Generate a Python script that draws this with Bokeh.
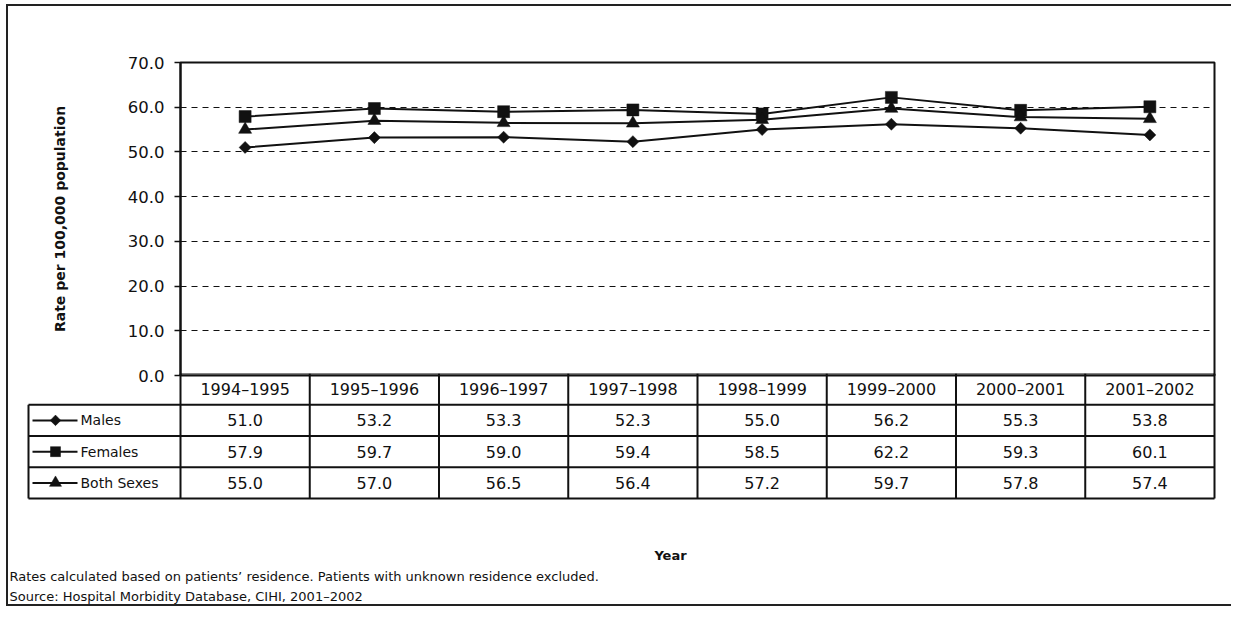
import numpy as np
from bokeh.plotting import figure
from bokeh.models import FixedTicker, NumeralTickFormatter
from bokeh.core.properties import value
from bokeh.embed import file_html
from bokeh.resources import INLINE

# ---------------- data ----------------
years = ["1994\u20131995", "1995\u20131996", "1996\u20131997", "1997\u20131998",
         "1998\u20131999", "1999\u20132000", "2000\u20132001", "2001\u20132002"]
males = [51.0, 53.2, 53.3, 52.3, 55.0, 56.2, 55.3, 53.8]
females = [57.9, 59.7, 59.0, 59.4, 58.5, 62.2, 59.3, 60.1]
both_sexes = [55.0, 57.0, 56.5, 56.4, 57.2, 59.7, 57.8, 57.4]
series_names = ["Males", "Females", "Both Sexes"]
y_ticks = [0, 10, 20, 30, 40, 50, 60, 70]
y_label = "Rate per 100,000 population"
x_label = "Year"
notes = ["Rates calculated based on patients\u2019 residence. Patients with unknown residence excluded.",
         "Source: Hospital Morbidity Database, CIHI, 2001\u20132002"]

# ---------------- style / layout ----------------
FONT = "DejaVu Sans"
INK = "#111111"
BORDER = "2px solid #222"
n = len(years)
xc = [i + 0.5 for i in range(n)]
series = [males, females, both_sexes]
markers = [dict(marker="square", angle=np.pi / 4, size=8.5),
           dict(marker="square", angle=0.0, size=12),
           dict(marker="triangle", angle=0.0, size=13)]
key_markers = [dict(marker="square", angle=np.pi / 4, size=7.5),
               dict(marker="square", angle=0.0, size=10),
               dict(marker="triangle", angle=0.0, size=12)]

# page geometry (px)
CANVAS_X = 8          # left of both canvases on the page
F1_TOP = 6            # top of chart canvas on the page
FRAME_L, FRAME_R, FRAME_T, FRAME_B = 180, 1214, 62, 375
W = 1225
EXTRA_B = 16          # room under frame for the "0.0" label
cat_px = (FRAME_R - FRAME_L) / n
row_px = 31.25


def px_to_x(p):
    return (p - FRAME_L) / cat_px


# ---------------- chart ----------------
f1 = figure(width=W, height=FRAME_B - F1_TOP + EXTRA_B, x_range=(0, n), y_range=(0, 70),
            output_backend="svg", toolbar_location=None, x_axis_location=None,
            min_border_left=FRAME_L - CANVAS_X, min_border_right=CANVAS_X + W - FRAME_R,
            min_border_top=FRAME_T - F1_TOP, min_border_bottom=EXTRA_B,
            styles={"margin-left": "6px", "margin-top": "4px",
                    "border-left": BORDER, "border-top": BORDER})
f1.outline_line_color = INK
f1.outline_line_width = 2
f1.xgrid.visible = False
f1.yaxis.ticker = FixedTicker(ticks=y_ticks)
f1.yaxis.formatter = NumeralTickFormatter(format="0.0")
f1.yaxis.major_label_text_font = FONT
f1.yaxis.major_label_text_font_size = "16.5px"
f1.yaxis.major_label_text_color = INK
f1.yaxis.major_label_standoff = 10
f1.yaxis.axis_line_color = INK
f1.yaxis.axis_line_width = 2
f1.yaxis.major_tick_line_color = INK
f1.yaxis.major_tick_line_width = 1.5
f1.yaxis.major_tick_out = 6
f1.yaxis.major_tick_in = 0
f1.yaxis.minor_tick_out = 0
f1.yaxis.minor_tick_in = 0
f1.yaxis.axis_label = y_label
f1.yaxis.axis_label_text_font = FONT
f1.yaxis.axis_label_text_font_size = "14px"
f1.yaxis.axis_label_text_font_style = "bold"
f1.yaxis.axis_label_text_color = INK
f1.yaxis.axis_label_standoff = 57
f1.ygrid.grid_line_color = INK
f1.ygrid.grid_line_dash = "6 5"
f1.ygrid.grid_line_width = 1

for vals, mk in zip(series, markers):
    f1.line(xc, vals, line_color=INK, line_width=2)
    f1.scatter(xc, vals, fill_color=INK, line_color=INK, line_width=0.5, **mk)

# ---------------- data table ----------------
H2 = 233
y_end = 4.0
y_start = y_end - H2 / row_px
f2 = figure(width=W, height=H2, x_range=(px_to_x(CANVAS_X), px_to_x(CANVAS_X + W)),
            y_range=(y_start, y_end),
            output_backend="svg", toolbar_location=None,
            x_axis_location=None, y_axis_location=None,
            min_border_left=0, min_border_right=0, min_border_top=0, min_border_bottom=0,
            styles={"margin-left": "6px", "margin-top": f"-{EXTRA_B}px",
                    "border-left": BORDER, "border-bottom": BORDER})
f2.outline_line_color = None
f2.background_fill_color = None
f2.border_fill_color = None
f2.xgrid.visible = False
f2.ygrid.visible = False

tbl_left = px_to_x(28)
nrows = len(series_names)
# horizontal rules
hx0 = [tbl_left] * (nrows + 1) + [0.0]
hx1 = [float(n)] * (nrows + 2)
hy = list(range(nrows + 1)) + [nrows + 1]
f2.segment(hx0, hy, hx1, hy, line_color=INK, line_width=2)
# vertical rules
vx = [tbl_left] + list(range(n + 1))
vy0 = [0.0] * (n + 2)
vy1 = [float(nrows)] + [float(nrows + 1)] * (n + 1)
f2.segment(vx, vy0, vx, vy1, line_color=INK, line_width=2)

# header
f2.text(xc, [nrows + 0.5] * n, text=years, text_font=value(FONT), text_font_size="16px",
        text_align="center", text_baseline="middle", text_color=INK)
# values + legend keys
for r, (name, vals, mk) in enumerate(zip(series_names, series, key_markers)):
    yr = nrows - r - 0.5
    f2.text(xc, [yr] * n, text=[f"{v:.1f}" for v in vals], text_font=value(FONT),
            text_font_size="16px", text_align="center", text_baseline="middle",
            text_color=INK)
    f2.segment([px_to_x(32)], [yr], [px_to_x(77)], [yr], line_color=INK, line_width=2)
    f2.scatter([px_to_x(55)], [yr], fill_color=INK, line_color=INK, line_width=0.5, **mk)
    f2.text([px_to_x(80)], [yr], text=[name], text_font=value(FONT),
            text_font_size="14px", text_align="left", text_baseline="middle",
            text_color=INK)

# x-axis title and notes
f2.text([px_to_x(670)], [y_end - (557 - FRAME_B) / row_px], text=[x_label],
        text_font=value(FONT), text_font_size="13px", text_font_style="bold",
        text_align="center", text_baseline="middle", text_color=INK)
f2.text([px_to_x(9)] * len(notes),
        [y_end - (578 - FRAME_B) / row_px, y_end - (598 - FRAME_B) / row_px], text=notes,
        text_font=value(FONT), text_font_size="13px", text_align="left",
        text_baseline="middle", text_color=INK)

open("out.html", "w").write(file_html([f1, f2], INLINE))
